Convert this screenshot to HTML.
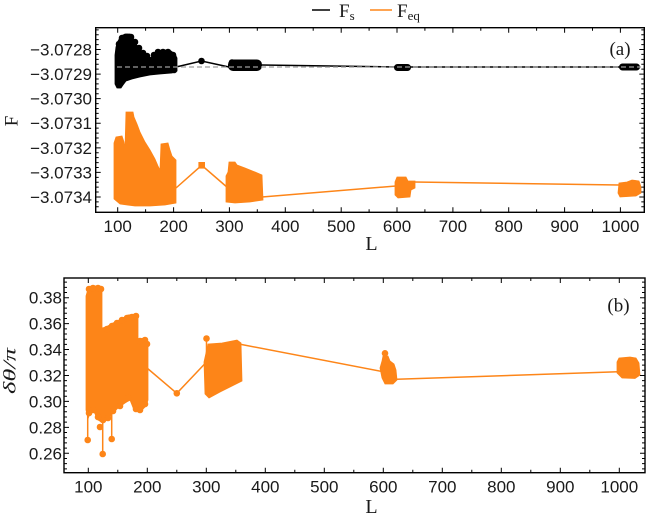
<!DOCTYPE html>
<html>
<head>
<meta charset="utf-8">
<style>
html,body{margin:0;padding:0;background:#fff;}
svg{display:block;}
.tl{font-family:"Liberation Sans",sans-serif;font-size:17px;fill:#1a1a1a;}
.sr{font-family:"Liberation Serif",serif;fill:#1a1a1a;}
</style>
</head>
<body>
<svg width="650" height="520" viewBox="0 0 650 520" xmlns="http://www.w3.org/2000/svg">
<rect width="650" height="520" fill="#fff"/>

<!-- Legend -->
<line x1="312" y1="10" x2="330" y2="10" stroke="#000" stroke-width="1.6"/>
<text class="sr" x="339" y="17" font-size="19">F<tspan font-size="13" dy="3">s</tspan></text>
<line x1="370" y1="10" x2="392" y2="10" stroke="#fd8518" stroke-width="1.6"/>
<text class="sr" x="397" y="17" font-size="19">F<tspan font-size="13" dy="3">eq</tspan></text>

<!-- ================= TOP PANEL ================= -->
<defs>
<clipPath id="c1"><rect x="96" y="28" width="548" height="184"/></clipPath>
<clipPath id="c2"><rect x="64" y="278" width="581" height="194"/></clipPath>
</defs>

<g clip-path="url(#c1)">
  <!-- orange Feq -->
  <g fill="#fd8518" stroke="#fd8518">
    <polyline points="176,188 201.7,165.3 228,188" fill="none" stroke-width="1.5"/>
    <polyline points="262,197 396,186" fill="none" stroke-width="1.5"/>
    <polyline points="414,182 619,185" fill="none" stroke-width="1.5"/>
    <polygon stroke-width="0.8" points="114,143 116,137 122,136 124,142 125,149 126,112 133,112 134,117 137,124 140,132 145,142 150,150 155,159 158,166 160,170 161,144 168,143 170,150 172,156 176,160 176,203 165,205 150,206 135,206 120,204 114,199"/>
    <rect x="198.4" y="162" width="6.6" height="6.6" stroke="none"/>
    <polygon stroke-width="0.8" points="229,162 235,162 237,165 245,168 255,172 262,175 263,200 250,202 235,203 226,202 226,176 228,172"/>
    <polygon stroke-width="0.8" points="397,177 406,177 408,181 415,181 415,188 411,190 410,197 398,198 395,195 395,182"/>
    <polygon stroke-width="0.8" points="619,183 627,182 632,180 639,181 641,187 641,193 636,196 620,197 618,193"/>
  </g>
  <!-- black Fs -->
  <g fill="#000" stroke="#000">
    <polyline points="176,67 201.5,61 229,67" fill="none" stroke-width="1.5"/>
    <polyline points="262,65 396,67" fill="none" stroke-width="1.5"/>
    <polyline points="410,67 620,67" fill="none" stroke-width="1.5"/>
    <circle cx="201.5" cy="61" r="3.3" stroke="none"/>
    <polygon stroke-width="0.8" points="116,47 118,41 121,36 125,34 130,34 133,38 136,44 140,50 144,55 148,58 152,57 156,53 160,51 166,50 171,51 175,54 177,58 177,71 172,73 160,74 150,75 140,77 132,79 126,81 123,85 121,88 117,88 115,84 115,70 115,55"/>
    <g stroke="none">
      <circle cx="119" cy="44" r="3.3"/><circle cx="122" cy="38" r="3.3"/><circle cx="127" cy="37" r="3.3"/>
      <circle cx="131" cy="37" r="3.3"/><circle cx="135" cy="42" r="3.3"/><circle cx="139" cy="48" r="3.3"/>
      <circle cx="143" cy="53" r="3.3"/><circle cx="147" cy="56" r="3.3"/><circle cx="154" cy="55" r="3.3"/>
      <circle cx="158" cy="52" r="3.3"/><circle cx="163" cy="52" r="3.3"/><circle cx="168" cy="52" r="3.3"/>
      <circle cx="173" cy="55" r="3.3"/><circle cx="119" cy="85" r="3.3"/><circle cx="174" cy="70" r="3.3"/>
    </g>
    <rect x="228" y="59.5" width="34" height="11.5" rx="5" stroke="none"/>
    <circle cx="232" cy="62.5" r="3.3" stroke="none"/>
    <rect x="394" y="64" width="17" height="7" rx="3.5" stroke="none"/>
    <rect x="619" y="63.5" width="21" height="7" rx="3.5" stroke="none"/>
  </g>
  <line x1="117" y1="67" x2="641" y2="67" stroke="#9d9d9d" stroke-width="1.3" stroke-dasharray="5 3"/>
</g>

<!-- top frame -->
<rect x="95.7" y="27.7" width="548.6" height="184.6" fill="none" stroke="#000" stroke-width="1.4"/>
<!-- top panel x ticks -->
<path stroke="#000" stroke-width="1" fill="none" d="
M117.7 212.3v-5 M145.6 212.3v-3 M173.6 212.3v-5 M201.5 212.3v-3 M229.4 212.3v-5 M257.3 212.3v-3 M285.3 212.3v-5 M313.2 212.3v-3 M341.2 212.3v-5 M369.1 212.3v-3 M397 212.3v-5 M424.9 212.3v-3 M452.9 212.3v-5 M480.8 212.3v-3 M508.7 212.3v-5 M536.6 212.3v-3 M564.6 212.3v-5 M592.5 212.3v-3 M620.4 212.3v-5
M117.7 27.7v5 M145.6 27.7v3 M173.6 27.7v5 M201.5 27.7v3 M229.4 27.7v5 M257.3 27.7v3 M285.3 27.7v5 M313.2 27.7v3 M341.2 27.7v5 M369.1 27.7v3 M397 27.7v5 M424.9 27.7v3 M452.9 27.7v5 M480.8 27.7v3 M508.7 27.7v5 M536.6 27.7v3 M564.6 27.7v5 M592.5 27.7v3 M620.4 27.7v5
"/>
<!-- top panel y ticks -->
<path stroke="#000" stroke-width="1" fill="none" d="
M95.7 49.5h5 M95.7 74.08h5 M95.7 98.66h5 M95.7 123.24h5 M95.7 147.82h5 M95.7 172.4h5 M95.7 196.98h5
M644.3 49.5h-5 M644.3 74.08h-5 M644.3 98.66h-5 M644.3 123.24h-5 M644.3 147.82h-5 M644.3 172.4h-5 M644.3 196.98h-5
M95.7 29.84h3 M95.7 34.75h3 M95.7 39.67h3 M95.7 44.58h3
M95.7 54.42h3 M95.7 59.33h3 M95.7 64.25h3 M95.7 69.16h3
M95.7 79h3 M95.7 83.91h3 M95.7 88.83h3 M95.7 93.74h3
M95.7 103.58h3 M95.7 108.49h3 M95.7 113.41h3 M95.7 118.32h3
M95.7 128.16h3 M95.7 133.07h3 M95.7 137.99h3 M95.7 142.9h3
M95.7 152.74h3 M95.7 157.65h3 M95.7 162.57h3 M95.7 167.48h3
M95.7 177.32h3 M95.7 182.23h3 M95.7 187.15h3 M95.7 192.06h3
M95.7 201.9h3 M95.7 206.81h3
M644.3 29.84h-3 M644.3 34.75h-3 M644.3 39.67h-3 M644.3 44.58h-3
M644.3 54.42h-3 M644.3 59.33h-3 M644.3 64.25h-3 M644.3 69.16h-3
M644.3 79h-3 M644.3 83.91h-3 M644.3 88.83h-3 M644.3 93.74h-3
M644.3 103.58h-3 M644.3 108.49h-3 M644.3 113.41h-3 M644.3 118.32h-3
M644.3 128.16h-3 M644.3 133.07h-3 M644.3 137.99h-3 M644.3 142.9h-3
M644.3 152.74h-3 M644.3 157.65h-3 M644.3 162.57h-3 M644.3 167.48h-3
M644.3 177.32h-3 M644.3 182.23h-3 M644.3 187.15h-3 M644.3 192.06h-3
M644.3 201.9h-3 M644.3 206.81h-3
"/>
<!-- top y labels -->
<g class="tl" text-anchor="end">
<text x="92" y="55.5">−3.0728</text>
<text x="92" y="80.1">−3.0729</text>
<text x="92" y="104.7">−3.0730</text>
<text x="92" y="129.2">−3.0731</text>
<text x="92" y="153.8">−3.0732</text>
<text x="92" y="178.4">−3.0733</text>
<text x="92" y="203">−3.0734</text>
</g>
<!-- top x labels -->
<g class="tl" text-anchor="middle">
<text x="117.7" y="232">100</text>
<text x="173.6" y="232">200</text>
<text x="229.4" y="232">300</text>
<text x="285.3" y="232">400</text>
<text x="341.2" y="232">500</text>
<text x="397" y="232">600</text>
<text x="452.9" y="232">700</text>
<text x="508.7" y="232">800</text>
<text x="564.6" y="232">900</text>
<text x="620.4" y="232">1000</text>
</g>
<text class="sr" x="371.5" y="250" font-size="20" text-anchor="middle">L</text>
<text class="sr" x="0" y="0" font-size="19" text-anchor="middle" transform="translate(17.5,121) rotate(-90)">F</text>
<text class="sr" x="620" y="55" font-size="19" text-anchor="middle">(a)</text>

<!-- ================= BOTTOM PANEL ================= -->
<g clip-path="url(#c2)" fill="#fd8518" stroke="#fd8518">
  <polygon stroke-width="0.8" points="86,296 88,289 91,286 100,286 102,289 102,328 106,327 113,323 121,319 128,315 136,314 138,318 138,339 145,338 148,342 148,400 146,406 140,412 134,410 130,400 125,403 118,408 113,413 108,419 103,423 98,420 93,410 90,413 88,419 86,410"/>
  <g stroke="none">
    <circle cx="89" cy="289" r="3.3"/><circle cx="93" cy="288" r="3.3"/><circle cx="98" cy="288" r="3.3"/><circle cx="101" cy="289" r="3.3"/>
    <circle cx="107" cy="329" r="3.3"/><circle cx="112" cy="326" r="3.3"/><circle cx="117" cy="323" r="3.3"/><circle cx="122" cy="320" r="3.3"/>
    <circle cx="127" cy="318" r="3.3"/><circle cx="132" cy="317" r="3.3"/><circle cx="136" cy="316" r="3.3"/>
    <circle cx="140" cy="341" r="3.3"/><circle cx="145" cy="340" r="3.3"/><circle cx="147" cy="344" r="3.3"/>
    <circle cx="136" cy="409" r="3.3"/><circle cx="140" cy="410" r="3.3"/><circle cx="145" cy="404" r="3.3"/>
    <circle cx="128" cy="398" r="3.3"/><circle cx="120" cy="406" r="3.3"/><circle cx="113" cy="411" r="3.3"/>
    <circle cx="108" cy="418" r="3.3"/><circle cx="103" cy="420" r="3.3"/><circle cx="98" cy="417" r="3.3"/>
    <circle cx="93" cy="410" r="3.3"/><circle cx="89" cy="413" r="3.3"/><circle cx="100" cy="427" r="3.3"/>
    <circle cx="87.7" cy="440" r="3.3"/><circle cx="102.7" cy="454" r="3.3"/><circle cx="111.7" cy="439" r="3.3"/>
    <circle cx="176.8" cy="393.3" r="3.3"/><circle cx="206.5" cy="338.5" r="3.3"/>
    <circle cx="385" cy="353.3" r="3.3"/>
  </g>
  <g fill="none" stroke-width="1.5">
    <path d="M87.7 416V440 M102.7 420V454 M111.7 410V439"/>
    <polyline points="147,368 176.8,393.3 206.5,362"/>
    <path d="M206.5 362V338.5"/>
    <polyline points="239,344 383,371.7"/>
    <polyline points="396.7,379.3 618,371.7"/>
  </g>
  <polygon stroke-width="0.8" points="208,344 222,343 237,340 241,343 242,381 232,386 220,392 209,398 205,394 204,362"/>
  <polygon stroke-width="0.8" points="383,356 388,356 390,361 394,364 396,370 397,380 393,384 385,384 382,378 380,368 382,361"/>
  <polygon stroke-width="0.8" points="619,358 630,357 636,358 639,363 640,375 635,378.5 622,378 617,373 617,362"/>
</g>

<!-- bottom frame -->
<rect x="64" y="278" width="581" height="194.7" fill="none" stroke="#000" stroke-width="1.4"/>
<!-- bottom x ticks -->
<path stroke="#000" stroke-width="1" fill="none" d="
M88.3 472.7v-5 M117.8 472.7v-3 M147.3 472.7v-5 M176.8 472.7v-3 M206.3 472.7v-5 M235.8 472.7v-3 M265.3 472.7v-5 M294.8 472.7v-3 M324.3 472.7v-5 M353.8 472.7v-3 M383.3 472.7v-5 M412.8 472.7v-3 M442.3 472.7v-5 M471.8 472.7v-3 M501.3 472.7v-5 M530.8 472.7v-3 M560.3 472.7v-5 M589.8 472.7v-3 M619.3 472.7v-5
M88.3 278v5 M117.8 278v3 M147.3 278v5 M176.8 278v3 M206.3 278v5 M235.8 278v3 M265.3 278v5 M294.8 278v3 M324.3 278v5 M353.8 278v3 M383.3 278v5 M412.8 278v3 M442.3 278v5 M471.8 278v3 M501.3 278v5 M530.8 278v3 M560.3 278v5 M589.8 278v3 M619.3 278v5
"/>
<!-- bottom y ticks -->
<path stroke="#000" stroke-width="1" fill="none" d="
M64 297.7h5 M64 323.63h5 M64 349.56h5 M64 375.49h5 M64 401.42h5 M64 427.35h5 M64 453.28h5
M645 297.7h-5 M645 323.63h-5 M645 349.56h-5 M645 375.49h-5 M645 401.42h-5 M645 427.35h-5 M645 453.28h-5
M64 282.14h3 M64 287.33h3 M64 292.51h3
M64 302.89h3 M64 308.07h3 M64 313.26h3 M64 318.44h3
M64 328.82h3 M64 334h3 M64 339.19h3 M64 344.37h3
M64 354.75h3 M64 359.93h3 M64 365.12h3 M64 370.3h3
M64 380.68h3 M64 385.86h3 M64 391.05h3 M64 396.23h3
M64 406.61h3 M64 411.79h3 M64 416.98h3 M64 422.16h3
M64 432.54h3 M64 437.72h3 M64 442.91h3 M64 448.09h3
M64 458.47h3 M64 463.65h3 M64 468.84h3
M645 282.14h-3 M645 287.33h-3 M645 292.51h-3
M645 302.89h-3 M645 308.07h-3 M645 313.26h-3 M645 318.44h-3
M645 328.82h-3 M645 334h-3 M645 339.19h-3 M645 344.37h-3
M645 354.75h-3 M645 359.93h-3 M645 365.12h-3 M645 370.3h-3
M645 380.68h-3 M645 385.86h-3 M645 391.05h-3 M645 396.23h-3
M645 406.61h-3 M645 411.79h-3 M645 416.98h-3 M645 422.16h-3
M645 432.54h-3 M645 437.72h-3 M645 442.91h-3 M645 448.09h-3
M645 458.47h-3 M645 463.65h-3 M645 468.84h-3
"/>
<!-- bottom y labels -->
<g class="tl" text-anchor="end">
<text x="62" y="303.7">0.38</text>
<text x="62" y="329.6">0.36</text>
<text x="62" y="355.6">0.34</text>
<text x="62" y="381.5">0.32</text>
<text x="62" y="407.4">0.30</text>
<text x="62" y="433.3">0.28</text>
<text x="62" y="459.3">0.26</text>
</g>
<!-- bottom x labels -->
<g class="tl" text-anchor="middle">
<text x="88.3" y="492.5">100</text>
<text x="147.3" y="492.5">200</text>
<text x="206.3" y="492.5">300</text>
<text x="265.3" y="492.5">400</text>
<text x="324.3" y="492.5">500</text>
<text x="383.3" y="492.5">600</text>
<text x="442.3" y="492.5">700</text>
<text x="501.3" y="492.5">800</text>
<text x="560.3" y="492.5">900</text>
<text x="619.3" y="492.5">1000</text>
</g>
<text class="sr" x="371.5" y="513" font-size="20" text-anchor="middle">L</text>
<text class="sr" x="0" y="0" font-size="18" font-style="italic" text-anchor="middle" textLength="46" lengthAdjust="spacingAndGlyphs" transform="translate(15.5,371) rotate(-90)">δθ/π</text>
<text class="sr" x="618.5" y="311.5" font-size="19" text-anchor="middle">(b)</text>
</svg>
</body>
</html>
